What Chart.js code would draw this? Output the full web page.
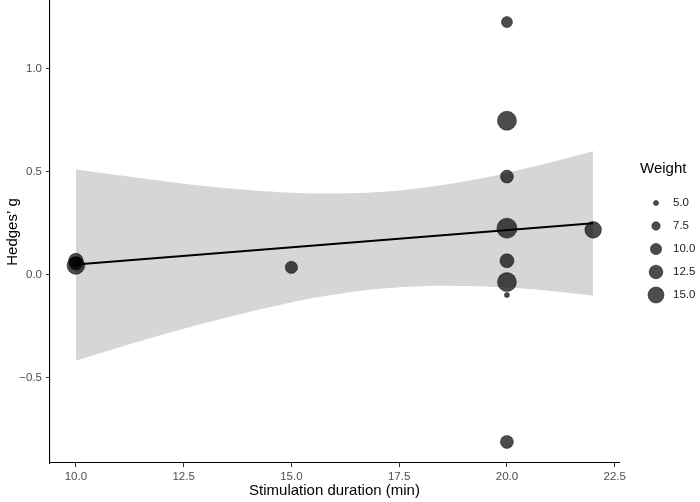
<!DOCTYPE html>
<html>
<head>
<meta charset="utf-8">
<script src="https://cdn.jsdelivr.net/npm/chart.js@4.4.1/dist/chart.umd.min.js"></script>
<style>
  html, body { margin: 0; padding: 0; background: #fff; }
  #wrap { width: 700px; height: 502px; }
</style>
</head>
<body>
<div id="wrap"><canvas id="chart" width="700" height="502"></canvas></div>
<script>
// Studies: stimulation duration, effect size, weight
const durations = [10, 10, 10, 15, 20, 20, 20, 20, 20, 20, 20, 20, 22];
const hedgesG   = [0.07, 0.055, 0.045, 0.036, 1.225, 0.747, 0.476, 0.226, 0.068, -0.035, -0.098, -0.81, 0.218];
const weights   = [13, 12, 17, 11, 9.8, 18.7, 11.7, 20, 12.8, 18.5, 5, 11.7, 15.7];

// Fitted line and its confidence band
const fitX = [10, 22];
const fitY = [0.05, 0.25];
const bandX     = [10, 11, 12, 13, 14, 15, 16, 17, 18, 19, 20, 21, 22];
const bandUpper = [0.512, 0.482, 0.455, 0.430, 0.411, 0.398, 0.394, 0.401, 0.421, 0.452, 0.494, 0.544, 0.600];
const bandLower = [-0.416, -0.352, -0.291, -0.234, -0.181, -0.134, -0.096, -0.069, -0.055, -0.054, -0.062, -0.078, -0.100];

// Axis ticks and legend breaks
const xTicks = [10, 12.5, 15, 17.5, 20, 22.5];
const yTicks = [-0.5, 0, 0.5, 1.0];
const legendWeights = [5, 7.5, 10, 12.5, 15];

const FONT = '"Liberation Sans", Arial, Helvetica, sans-serif';
const POINT_FILL = 'rgba(0,0,0,0.7)';
const POINT_EDGE = 'rgba(0,0,0,0.45)';

// size scale: radius grows with sqrt of weight
function rOf(w) {
    return 2.5 + 3.36 * (Math.sqrt(w) - Math.sqrt(5));
}

function fmt(v) {
    return v.toFixed(1).replace('-', '\u2212');
}

function toXY(xs, ys) {
    return xs.map((x, i) => ({ x: x, y: ys[i] }));
}

const sizeLegend = {
    id: 'sizeLegend',
    afterDraw(chart) {
        const ctx = chart.ctx;
        ctx.save();
        ctx.textBaseline = 'middle';
        ctx.fillStyle = '#000';
        ctx.font = '15px ' + FONT;
        ctx.fillText('Weight', 640, 169);
        ctx.font = '11.5px ' + FONT;
        legendWeights.forEach((w, i) => {
            const y = 203 + i * 23;
            ctx.beginPath();
            ctx.arc(656, y, rOf(w), 0, Math.PI * 2);
            ctx.fillStyle = POINT_FILL;
            ctx.fill();
            ctx.lineWidth = 1;
            ctx.strokeStyle = POINT_EDGE;
            ctx.stroke();
            ctx.fillStyle = '#222';
            ctx.fillText(fmt(w), 673, y);
        });
        ctx.restore();
    }
};

const ctx = document.getElementById('chart').getContext('2d');
new Chart(ctx, {
    type: 'scatter',
    data: {
        datasets: [
            {
                type: 'line',
                data: toXY(fitX, fitY),
                borderColor: '#000',
                borderWidth: 2.2,
                pointRadius: 0,
                fill: false,
                order: 0
            },
            {
                type: 'scatter',
                data: toXY(durations, hedgesG),
                backgroundColor: POINT_FILL,
                borderColor: POINT_EDGE,
                borderWidth: 1,
                pointRadius: (c) => rOf(weights[c.dataIndex]),
                order: 1
            },
            {
                type: 'line',
                data: toXY(bandX, bandUpper),
                borderWidth: 0,
                borderColor: 'rgba(0,0,0,0)',
                backgroundColor: 'rgba(153,153,153,0.4)',
                pointRadius: 0,
                tension: 0.4,
                fill: '+1',
                order: 2
            },
            {
                type: 'line',
                data: toXY(bandX, bandLower),
                borderWidth: 0,
                borderColor: 'rgba(0,0,0,0)',
                pointRadius: 0,
                tension: 0.4,
                fill: false,
                order: 3
            }
        ]
    },
    options: {
        responsive: false,
        animation: false,
        events: [],
        layout: {
            autoPadding: false,
            padding: { top: 1, right: 81, left: 0, bottom: 0 }
        },
        scales: {
            x: {
                type: 'linear',
                min: 9.4,
                max: 22.6,
                afterBuildTicks: (scale) => { scale.ticks = xTicks.map(v => ({ value: v })); },
                afterFit: (scale) => {
                    scale.height = 39;
                    scale.paddingLeft = 0;
                    scale.paddingRight = 0;
                },
                ticks: {
                    callback: (v) => fmt(v),
                    color: '#4d4d4d',
                    font: { family: FONT, size: 11.5 },
                    padding: 3,
                    maxRotation: 0
                },
                grid: {
                    drawOnChartArea: false,
                    drawTicks: true,
                    tickLength: 4,
                    color: '#333'
                },
                border: { color: '#000', width: 1.1 },
                title: {
                    display: true,
                    text: 'Stimulation duration (min)',
                    color: '#000',
                    font: { family: FONT, size: 15 },
                    padding: { top: 0, bottom: 2 }
                }
            },
            y: {
                type: 'linear',
                min: -0.912,
                max: 1.327,
                afterBuildTicks: (scale) => { scale.ticks = yTicks.map(v => ({ value: v })); },
                afterFit: (scale) => {
                    scale.width = 50;
                    scale.paddingTop = 0;
                    scale.paddingBottom = 0;
                },
                ticks: {
                    callback: (v) => fmt(v),
                    color: '#4d4d4d',
                    font: { family: FONT, size: 11.5 },
                    padding: 4
                },
                grid: {
                    drawOnChartArea: false,
                    drawTicks: true,
                    tickLength: 4,
                    color: '#333'
                },
                border: { color: '#000', width: 1.1 },
                title: {
                    display: true,
                    text: 'Hedges\u2019 g',
                    color: '#000',
                    font: { family: FONT, size: 15 },
                    padding: { top: 4, bottom: 0 }
                }
            }
        },
        plugins: {
            legend: { display: false },
            tooltip: { enabled: false }
        }
    },
    plugins: [sizeLegend]
});
</script>
</body>
</html>
